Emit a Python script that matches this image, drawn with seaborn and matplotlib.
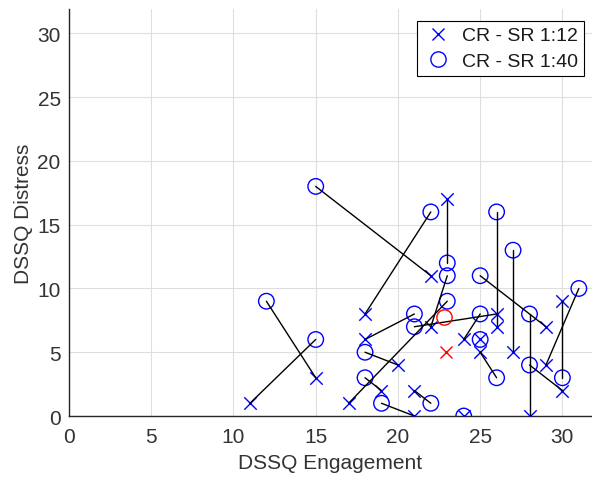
#!/usr/bin/env python3
"""
DSSQ Distress vs Engagement: CR - SR 1:12 paired with CR - SR 1:40.
"""

import pandas as pd
import matplotlib
matplotlib.use('Agg')
import matplotlib.pyplot as plt
from matplotlib.lines import Line2D
import seaborn as sns

# Condition SR 1:12 (crosses)
eng_12 = [22, 18, 15, 11, 18, 20, 17, 19, 21, 21, 26, 22, 23, 24, 26, 25, 25, 24, 27, 29, 28, 30, 30, 29]
dis_12 = [11, 8, 3, 1, 6, 4, 1, 2, 0, 2, 8, 7, 17, 6, 7, 6, 5, 0, 5, 7, 0, 2, 9, 4]

# Condition SR 1:40 (circles), same participant order
eng_40 = [15, 22, 12, 15, 21, 18, 23, 18, 19, 22, 21, 23, 23, 25, 26, 25, 26, 24, 27, 25, 28, 28, 30, 31]
dis_40 = [18, 16, 9, 6, 8, 5, 9, 3, 1, 1, 7, 11, 12, 8, 16, 6, 3, 0, 13, 11, 8, 4, 3, 10]

# group means (red markers)
mean_12 = (22.9, 5.0)
mean_40 = (22.8, 7.8)

LEGEND_LABELS = ['CR - SR 1:12', 'CR - SR 1:40']


def main():
    sns.set_style('whitegrid')
    plt.rcParams['font.family'] = ['Liberation Sans', 'DejaVu Sans']

    n = len(eng_12)
    df12 = pd.DataFrame({'pair': range(n), 'x': eng_12, 'y': dis_12})
    df40 = pd.DataFrame({'pair': range(n), 'x': eng_40, 'y': dis_40})
    pairs = pd.concat([df12, df40], ignore_index=True)

    fig = plt.figure(figsize=(5.92, 4.81), dpi=100)
    ax = fig.add_axes([0.1166, 0.133, 0.8834, 0.846])

    sns.scatterplot(data=df12, x='x', y='y', marker='x', s=80, color='blue',
                    linewidth=1, ax=ax, zorder=3)
    sns.scatterplot(data=df40, x='x', y='y', marker='o', s=125, facecolors='none',
                    edgecolor='blue', linewidth=1, ax=ax, zorder=3)
    sns.lineplot(data=pairs, x='x', y='y', units='pair', estimator=None, sort=False,
                 color='black', linewidth=1, ax=ax, zorder=4)

    ax.plot(*mean_12, marker='x', color='red', ms=9, mew=1, ls='none', zorder=5)
    ax.plot(*mean_40, marker='o', mfc='none', mec='red', ms=11, mew=1, ls='none', zorder=5)

    ax.set_xlim(0, 31.8)
    ax.set_ylim(0, 31.9)
    ax.set_xticks(range(0, 31, 5))
    ax.set_yticks(range(0, 31, 5))
    ax.grid(True, color='#dedede', linewidth=0.8)
    ax.tick_params(direction='in', length=4, width=0.8, colors='#333333',
                   labelsize=15)
    ax.tick_params(axis='x', pad=8)
    ax.tick_params(axis='y', pad=6)
    for side in ['top', 'right']:
        ax.spines[side].set_visible(False)
    for side in ['left', 'bottom']:
        ax.spines[side].set_color('#262626')
        ax.spines[side].set_linewidth(1)

    ax.set_xlabel('DSSQ Engagement', fontsize=15, color='#333333', labelpad=5)
    ax.set_ylabel('DSSQ Distress', fontsize=15, color='#333333', labelpad=3)

    handles = [
        Line2D([], [], marker='x', color='blue', ls='none', ms=9, mew=1),
        Line2D([], [], marker='o', mfc='none', mec='blue', ls='none', ms=11, mew=1),
    ]
    leg = ax.legend(handles, LEGEND_LABELS, loc='upper right',
                    bbox_to_anchor=(0.995, 0.985), fontsize=14, frameon=True,
                    fancybox=False, edgecolor='black', framealpha=1,
                    handletextpad=0.4, borderpad=0.3, labelspacing=0.4,
                    handlelength=1.6, borderaxespad=0.3)
    leg.get_frame().set_linewidth(0.8)
    for t in leg.get_texts():
        t.set_color('#1a1a1a')

    fig.savefig('out.png', dpi=100)


if __name__ == '__main__':
    main()
